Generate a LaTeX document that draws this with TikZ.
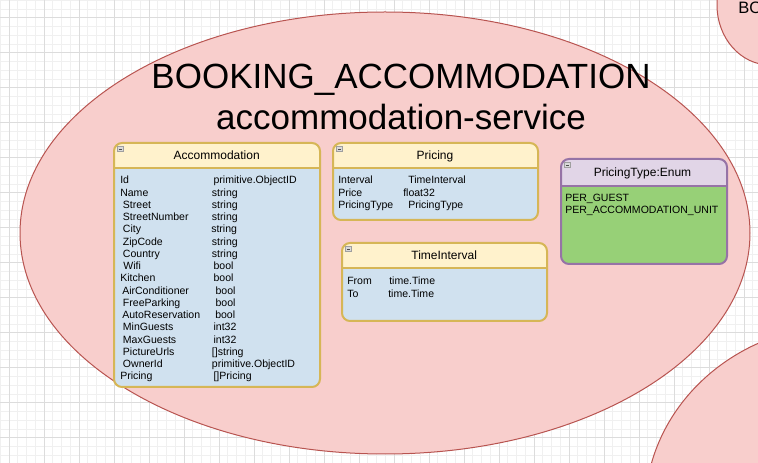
\documentclass[tikz,border=0pt]{standalone}
\usepackage{fontspec}
\setmainfont{Liberation Sans}
\definecolor{gridminor}{HTML}{F0F0F0}
\definecolor{gridmajor}{HTML}{DCDCDC}
\definecolor{ellfill}{HTML}{F8CECC}
\definecolor{ellline}{HTML}{B85450}
\definecolor{headyel}{HTML}{FFF2CC}
\definecolor{lineyel}{HTML}{D6B656}
\definecolor{bodyblue}{HTML}{D0E1EF}
\definecolor{headpur}{HTML}{E1D5E7}
\definecolor{linepur}{HTML}{9673A6}
\definecolor{bodygreen}{HTML}{97D077}
\newcommand\umlbox[8]{%
  \fill[#7, rounded corners=6pt] (#1,#2) rectangle (#3,#4);
  \begin{scope}
    \clip (#1-3,#2-3) rectangle (#3+3,#5);
    \fill[#6, rounded corners=6pt] (#1,#2) rectangle (#3,#4);
  \end{scope}
  \draw[#8, line width=1.5pt] (#1,#5) -- (#3,#5);
  \draw[#8, line width=1.5pt, rounded corners=6pt] (#1,#2) rectangle (#3,#4);
  \draw[draw=gray!75, fill=gray!30, line width=0.4pt] (#1+3.5,#2+3.5) rectangle ++(6,5);
  \draw[gray!60!black, line width=0.6pt] (#1+4.8,#2+6) -- ++(3.4,0);
}
\begin{document}
\begin{tikzpicture}[x=0.75pt,y=-0.75pt,
  minorgrid/.style={draw=gridminor, line width=0.75pt},
  majorgrid/.style={draw=gridmajor, line width=0.75pt},
  svc/.style={fill=ellfill, draw=ellline, line width=0.75pt},
  rowtxt/.style={anchor=base west, inner sep=0pt, font=\fontsize{7.9}{9}\selectfont},
  hdrtxt/.style={anchor=base, inner sep=0pt, font=\fontsize{9}{11}\selectfont},
  bigtxt/.style={anchor=base, inner sep=0pt, font=\fontsize{26.25}{30}\selectfont},
  smalltitle/.style={anchor=base west, inner sep=0pt, font=\fontsize{12.4}{14}\selectfont},
]
\useasboundingbox (0,0) rectangle (758,463);
\clip (0,0) rectangle (758,463);
\fill[white] (0,0) rectangle (758,463);
% grid
\foreach \i in {0,...,87} {\draw[minorgrid] ({0.25+8.75*\i},0) -- ({0.25+8.75*\i},463);}
\foreach \i in {0,...,53} {\draw[minorgrid] (0,{0.5+8.75*\i}) -- (758,{0.5+8.75*\i});}
\foreach \i in {0,...,21} {\draw[majorgrid] ({9+35*\i},0) -- ({9+35*\i},463);}
\foreach \i in {0,...,13} {\draw[majorgrid] (0,{18+35*\i}) -- (758,{18+35*\i});}
% service ellipses
\draw[svc] (770,5) ellipse [x radius=39.75pt, y radius=45pt];
\draw[svc] (845,510) ellipse [x radius=150pt, y radius=138.75pt];
\draw[svc] (385,233) ellipse [x radius=273.75pt, y radius=165.75pt];
\node[smalltitle] (otherSvc) at (738,13.3) {BO};
\node[bigtxt] (svcTitle) at (401,89) {BOOKING\_ACCOMMODATION};
\node[bigtxt] (svcName) at (401,130) {accommodation-service};
% Accommodation
\umlbox{114}{143}{320}{387}{168}{headyel}{bodyblue}{lineyel}
\node[hdrtxt] (accTitle) at (216.7,160) {Accommodation};
\foreach \i/\a/\ax/\b/\bx in {
  0/Id/120/primitive.ObjectID/213.3,
  1/Name/120/string/211.7,
  2/Street/122.7/string/211.7,
  3/StreetNumber/122.7/string/211.7,
  4/City/122.7/string/211,
  5/ZipCode/122.7/string/211.7,
  6/Country/122.7/string/211.7,
  7/Wifi/123.2/bool/213.3,
  8/Kitchen/120/bool/213.3,
  9/AirConditioner/122/bool/215.3,
  10/FreeParking/122.7/bool/215.3,
  11/AutoReservation/122/bool/215,
  12/MinGuests/122.7/int32/213.3,
  13/MaxGuests/122.7/int32/213.3,
  14/PictureUrls/122.7/[]string/211.7,
  15/OwnerId/122.7/primitive.ObjectID/211.7,
  16/Pricing/120/[]Pricing/213.3} {
  \node[rowtxt] (accL\i) at (\ax,{184+12.25*\i}) {\a};
  \node[rowtxt] (accR\i) at (\bx,{184+12.25*\i}) {\b};
}
% Pricing
\umlbox{333}{143}{538}{220}{168}{headyel}{bodyblue}{lineyel}
\node[hdrtxt] (priTitle) at (435,160) {Pricing};
\node[rowtxt] (priL0) at (338,184) {Interval};
\node[rowtxt] (priR0) at (408,184) {TimeInterval};
\node[rowtxt] (priL1) at (338,196.8) {Price};
\node[rowtxt] (priR1) at (403,196.8) {float32};
\node[rowtxt] (priL2) at (338,209) {PricingType};
\node[rowtxt] (priR2) at (408,209) {PricingType};
% TimeInterval
\umlbox{342}{243}{547}{321}{268}{headyel}{bodyblue}{lineyel}
\node[hdrtxt] (tiTitle) at (444.2,260) {TimeInterval};
\node[rowtxt] (tiL0) at (347,285) {From};
\node[rowtxt] (tiR0) at (389,285) {time.Time};
\node[rowtxt] (tiL1) at (347,297.2) {To};
\node[rowtxt] (tiR1) at (388,297.2) {time.Time};
% PricingType enum
\umlbox{561}{159}{727}{264}{186}{headpur}{bodygreen}{linepur}
\node[hdrtxt] (enTitle) at (642.5,176.7) {PricingType:Enum};
\node[rowtxt] (en0) at (565,201.5) {PER\_GUEST};
\node[rowtxt] (en1) at (565,213.5) {PER\_ACCOMMODATION\_UNIT};
\end{tikzpicture}
\end{document}
